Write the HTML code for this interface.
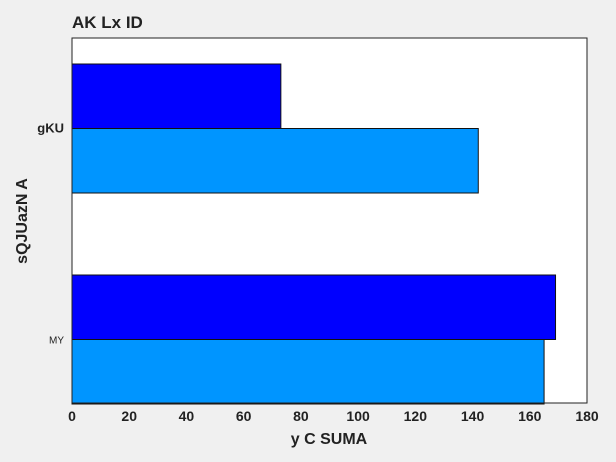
<!DOCTYPE html>
<html><head><meta charset="utf-8"><style>
body{margin:0;background:#f0f0f0;}
svg{display:block;font-family:"Liberation Sans Narrow","Liberation Sans",sans-serif;}
</style></head><body>
<svg id="chart" width="616" height="462">
<rect width="616" height="462" fill="#f0f0f0"/>
<text x="72" y="28" font-size="17" font-weight="bold" fill="#222">AK Lx ID</text>
<rect x="72" y="38" width="515" height="365" fill="#fff"/>
<g id="bars"></g>
<g id="xticks"></g>
<g id="yticks"></g>
<rect x="72" y="38" width="515" height="365" fill="none" stroke="#222" stroke-width="1"/>
<text x="329" y="444" font-size="16" font-weight="bold" text-anchor="middle" fill="#222">y C SUMA</text>
<text transform="translate(27,221) rotate(-90)" font-size="16" font-weight="bold" text-anchor="middle" fill="#222">sQJUazN A</text>
</svg>
<script>
const categories = ["gKU", "MY"];
const seriesDark = [73, 169];
const seriesLight = [142, 165];
const xTicks = [0, 20, 40, 60, 80, 100, 120, 140, 160, 180];
const NS = "http://www.w3.org/2000/svg";
const x0 = 72, x1 = 587, y0 = 38, y1 = 403;
const xScale = v => x0 + (v - 0) / 180 * (x1 - x0);
const barH = 64.5;
const yCenter = i => 128.5 + i * 211;
function mk(tag, attrs, parent) {
  const e = document.createElementNS(NS, tag);
  for (const k in attrs) e.setAttribute(k, attrs[k]);
  parent.appendChild(e);
  return e;
}
const bars = document.getElementById("bars");
const yt = document.getElementById("yticks");
categories.forEach((c, i) => {
  const mid = yCenter(i);
  let r = mk("rect", {x: x0, y: mid - barH, width: xScale(seriesDark[i]) - x0, height: barH, fill: "#0000ff", stroke: "#111", "stroke-width": 1}, bars);
  
  
  r = mk("rect", {x: x0, y: mid, width: xScale(seriesLight[i]) - x0, height: barH, fill: "#0095ff", stroke: "#111", "stroke-width": 1}, bars);
  
  
  const t = mk("text", {x: 64, y: mid + 4, "text-anchor": "end", fill: "#222", "font-size": i === 0 ? 13 : 10, "font-weight": i === 0 ? "bold" : "normal"}, yt);
  t.textContent = c;
  
  
});
const xt = document.getElementById("xticks");
xTicks.forEach(v => {
  const t = mk("text", {x: xScale(v), y: 421, "text-anchor": "middle", fill: "#222", "font-size": 14, "font-weight": "bold"}, xt);
  t.textContent = v;
  
  
});
</script>
</body></html>
